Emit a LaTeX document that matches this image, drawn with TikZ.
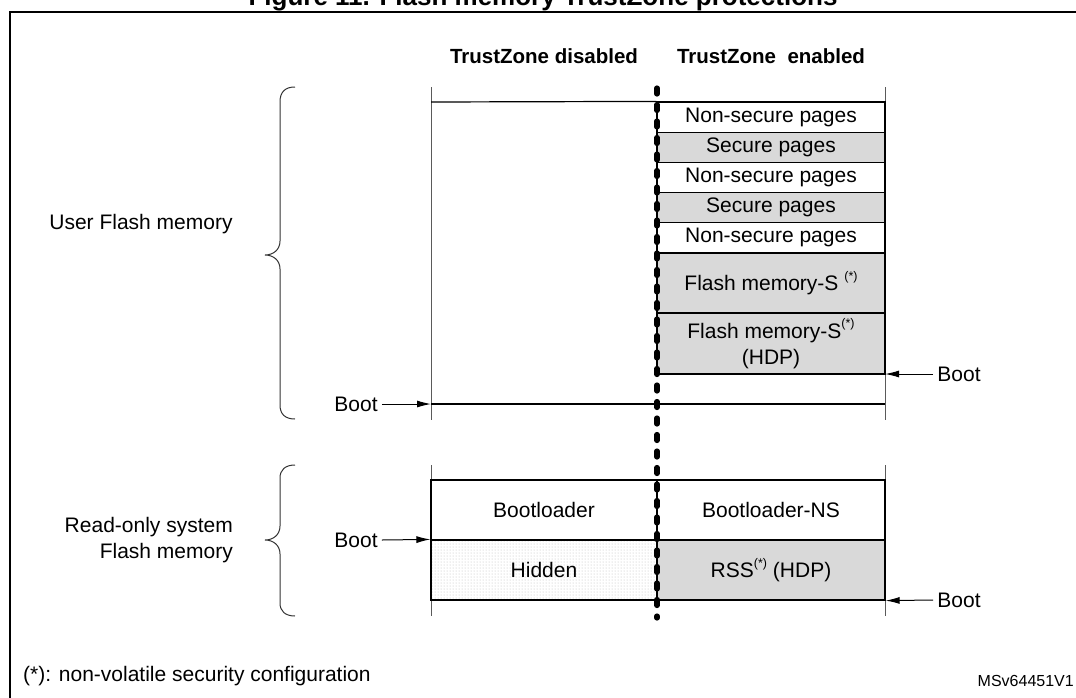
\documentclass[tikz,border=0pt]{standalone}
\usepackage{fontspec}
\setmainfont{Liberation Sans}
\usetikzlibrary{arrows.meta,patterns}
\definecolor{secgray}{RGB}{217,217,217}
\definecolor{linegray}{RGB}{90,90,90}
\newcommand{\footmark}{\raisebox{0.5em}{\fontsize{12.5}{12.5}\selectfont(*)}}
\tikzset{
  txt/.style={font=\fontsize{21}{26}\selectfont, inner sep=0pt},
  hdr/.style={font=\fontsize{20.5}{24}\bfseries, inner sep=0pt, anchor=base},
  cell/.style={draw=black, line width=1.2pt, minimum width=228pt, inner sep=0pt, align=center,
               font=\fontsize{21}{26}\selectfont},
  sec/.style={cell, fill=secgray},
  nsec/.style={cell, fill=white},
  boot/.style={txt, inner xsep=4pt},
  arr/.style={-{Latex[length=14pt,width=7pt]}, line width=1pt, black},
  frame/.style={line width=1pt, linegray},
  hline/.style={line width=1.2pt, black},
  brace/.style={line width=1pt, black!80},
  tzline/.style={line width=5.2pt, line cap=round, dash pattern=on 6pt off 10.5pt, black}
}
\begin{document}
\begin{tikzpicture}[x=1pt,y=-1pt]
\useasboundingbox (0,0) rectangle (1076,697);
% outer frame and clipped title
\draw[line width=2.5pt] (10,720) -- (10,12) -- (1090,12);
\node[font=\fontsize{26}{30}\bfseries, inner sep=0pt, anchor=base] (title) at (543,5) {Figure 11. Flash memory TrustZone protections};

% headers
\node[hdr] (hdis) at (544,63) {TrustZone disabled};
\node[hdr] (hen) at (771,63) {TrustZone~~enabled};

% upper section frame lines
\draw[frame] (431,87) -- (431,420);
\draw[frame] (885,87) -- (885,420);
\coordinate (ulTop) at (431,102);
\coordinate (ulBot) at (431,404);
\coordinate (urBot) at (885,404);

% right column cells (TrustZone enabled)
\node[nsec, minimum height=30.2pt] (ns1) at (771,117.1) {Non-secure pages};
\node[sec,  minimum height=30.2pt] (s1)  at (771,147.3) {Secure pages};
\node[nsec, minimum height=30.2pt] (ns2) at (771,177.5) {Non-secure pages};
\node[sec,  minimum height=30.2pt] (s2)  at (771,207.7) {Secure pages};
\node[nsec, minimum height=30.2pt] (ns3) at (771,237.9) {Non-secure pages};
\node[sec,  minimum height=60pt]   (fms) at (771,283) {Flash memory-S \footmark};
\node[sec,  minimum height=61pt]   (fmh) at (771,343.5) {Flash memory-S\footmark\\(HDP)};

\draw[hline] (ulTop) -- (ns1.north west);
\draw[hline] (ulBot) -- (urBot);

% braces and labels
\draw[brace] (295,87) .. controls (285,87) and (280,92) .. (280,102) -- (280,241)
  .. controls (280,250) and (273,255) .. (265,255)
  .. controls (273,255) and (280,260) .. (280,269) -- (280,405)
  .. controls (280,414) and (285,419) .. (295,419);
\node[txt] (ufm) at (141,224) {User Flash memory};

% boot arrows upper
\node[boot] (bootL1) at (356,404) {Boot};
\draw[arr] (bootL1.east) -- (ulBot);
\coordinate (bootR1t) at (885,374);
\node[boot] (bootR1) at (959,374) {Boot};
\draw[arr] (bootR1.west) -- (bootR1t);

% lower section
\draw[frame] (431,465) -- (431,616);
\draw[frame] (885,465) -- (885,616);
\node[cell, fill=white, minimum width=226pt, minimum height=60pt] (bl) at (544,510) {Bootloader};
\node[cell, pattern=dots, pattern color=black!28, minimum width=226pt, minimum height=60pt] (hid) at (544,570) {};
\node[txt] (hidt) at (544,570) {Hidden};
\node[nsec, minimum height=60pt] (bns) at (771,510) {Bootloader-NS};
\node[sec,  minimum height=60pt] (rss) at (771,570) {RSS\footmark{} (HDP)};

\draw[brace] (295,465) .. controls (285,465) and (280,470) .. (280,478) -- (280,526)
  .. controls (280,535) and (273,540) .. (265,540)
  .. controls (273,540) and (280,545) .. (280,554) -- (280,603)
  .. controls (280,611) and (285,616) .. (295,616);
\node[txt, align=right, anchor=east] (rof) at (233,540) {Read-only system\\Flash memory};

\node[boot] (bootL2) at (356,540) {Boot};
\draw[arr] (bootL2.east) -- (hid.north west);
\node[boot] (bootR2) at (959,600) {Boot};
\draw[arr] (bootR2.west) -- (rss.south east);

% TrustZone boundary
\coordinate (tzTop) at (657,88);
\coordinate (tzBot) at (657,618);
\draw[tzline] (tzTop) -- (tzBot);

% footnotes
\node[txt, anchor=west] (fn) at (23,676) {(*): non-volatile security configuration};
\node[font=\fontsize{16}{18}\selectfont, inner sep=0pt, anchor=east] (ref) at (1074,681) {MSv64451V1};
\end{tikzpicture}
\end{document}
